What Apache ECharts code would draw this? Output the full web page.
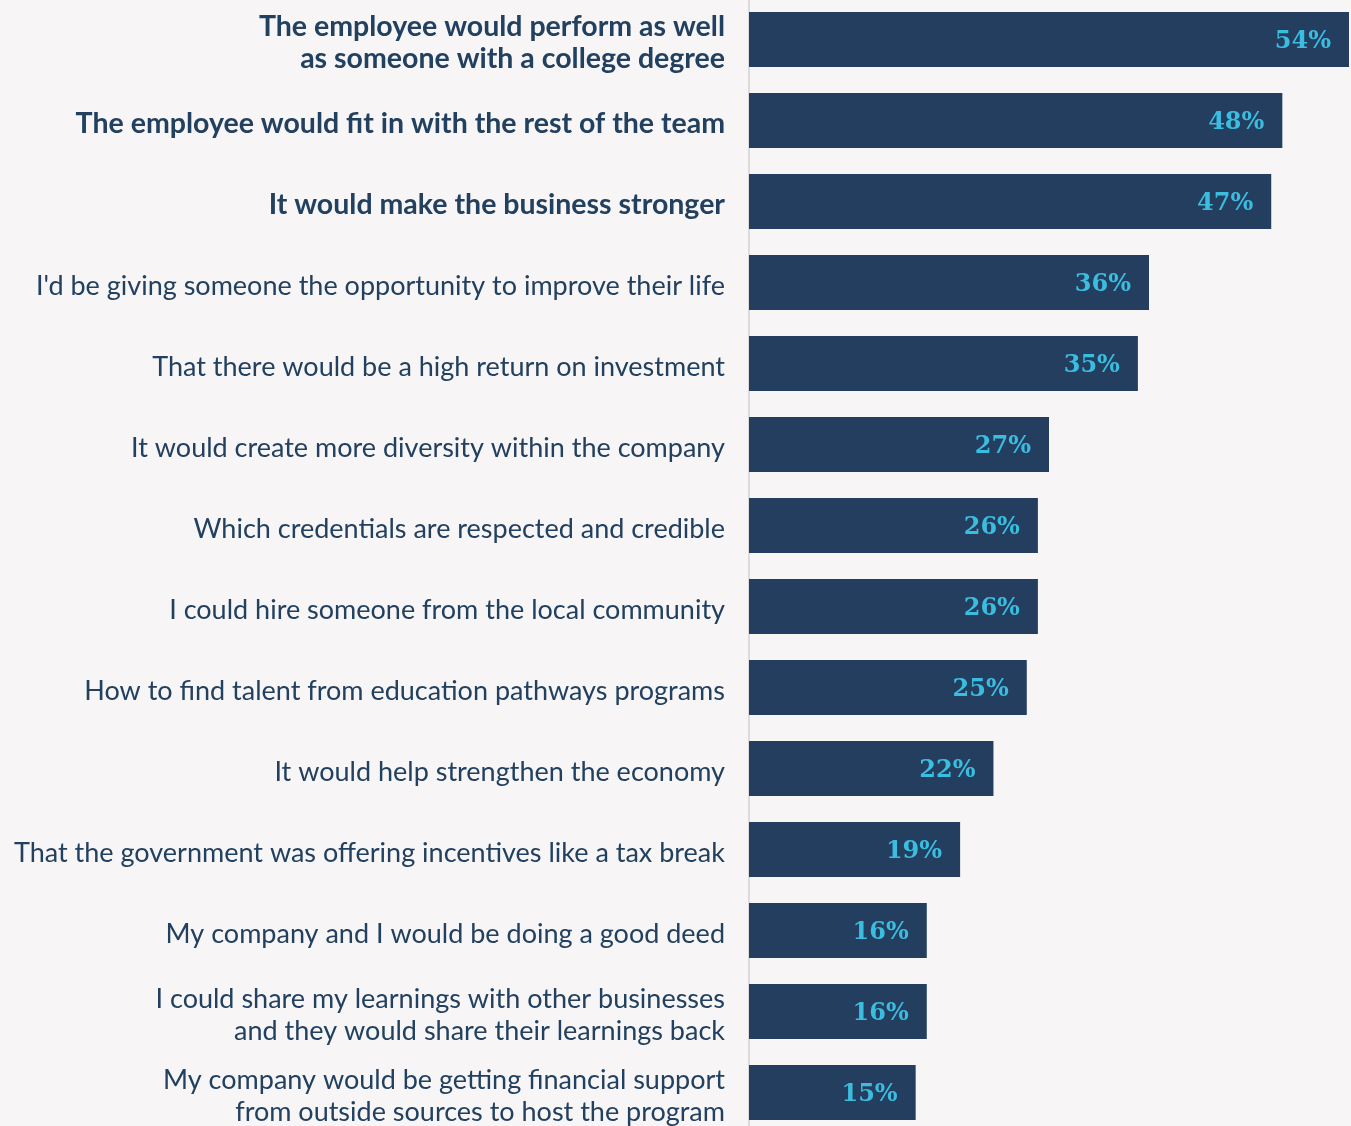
<!DOCTYPE html>
<html><head><meta charset="utf-8">
<script src="https://cdn.jsdelivr.net/npm/echarts@6/dist/echarts.min.js"></script>
<style>html,body{margin:0;padding:0;background:#f7f5f5;}#c{width:1351px;height:1126px;}</style>
</head><body><div id="c"></div>
<script>
const categories = [
  "The employee would perform as well\nas someone with a college degree",
  "The employee would fit in with the rest of the team",
  "It would make the business stronger",
  "I'd be giving someone the opportunity to improve their life",
  "That there would be a high return on investment",
  "It would create more diversity within the company",
  "Which credentials are respected and credible",
  "I could hire someone from the local community",
  "How to find talent from education pathways programs",
  "It would help strengthen the economy",
  "That the government was offering incentives like a tax break",
  "My company and I would be doing a good deed",
  "I could share my learnings with other businesses\nand they would share their learnings back",
  "My company would be getting financial support\nfrom outside sources to host the program"
];
const values = [54, 48, 47, 36, 35, 27, 26, 26, 25, 22, 19, 16, 16, 15];
const boldCount = 3;

const chart = echarts.init(document.getElementById('c'), null, {renderer: 'canvas'});
chart.setOption({
  backgroundColor: '#f7f5f5',
  animation: false,
  grid: {left: 749, right: 2, top: -1, bottom: -7, containLabel: false, outerBoundsMode: 'none'},
  xAxis: {type: 'value', min: 0, max: 54, show: false},
  yAxis: {
    type: 'category', inverse: true, data: categories, offset: 1,
    axisLine: {show: true, lineStyle: {color: '#dcdada', width: 2}},
    axisTick: {show: false},
    axisLabel: {
      margin: 23, align: 'right', padding: [7, 0, 0, 0],
      formatter: function (v, i) {
        return i < boldCount ? '{b|' + v + '}' : '{n|' + v + '}';
      },
      rich: {
        b: {fontFamily: 'Lato', fontWeight: 'bold', fontSize: 28.5, color: '#22405f', lineHeight: 32, align: 'right'},
        n: {fontFamily: 'Lato', fontWeight: 'normal', fontSize: 27, color: '#22405f', lineHeight: 32, align: 'right'}
      }
    }
  },
  series: [{
    type: 'bar', data: values, barWidth: 55,
    itemStyle: {color: '#233e5f'},
    label: {
      show: true, position: 'insideRight', distance: 18,
      formatter: '{c}%', offset: [0, 2],
      fontFamily: 'DejaVu Serif', fontWeight: 'bold', fontSize: 24, color: '#3bbde0'
    }
  }]
});
</script></body></html>
